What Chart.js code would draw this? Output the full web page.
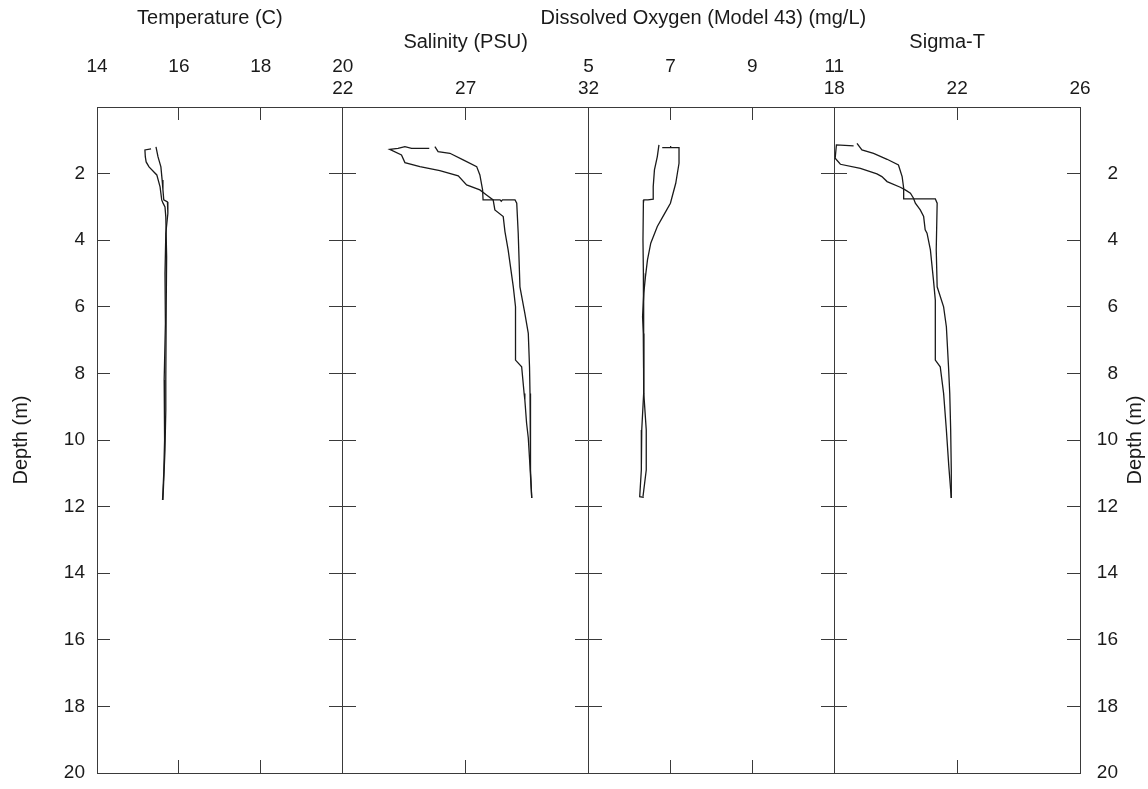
<!DOCTYPE html>
<html>
<head>
<meta charset="utf-8">
<title>CTD profile</title>
<script src="https://cdn.jsdelivr.net/npm/chart.js@4.4.1/dist/chart.umd.min.js"></script>
<style>
  html, body { margin: 0; padding: 0; background: #fff; }
  #wrap { position: relative; width: 1148px; height: 789px; }
</style>
</head>
<body>
<div id="wrap"><canvas id="profile"></canvas></div>
<script>
// tick values for each panel axis
const depthTicks = [0, 2, 4, 6, 8, 10, 12, 14, 16, 18, 20];
const tempTicks = [14, 16, 18, 20];
const salinityTicks = [22, 27, 32];
const oxygenTicks = [5, 7, 9, 11];
const sigmaTicks = [18, 22, 26];

// casts as [value, depth m]
const tempDown = [[15.32, 1.26], [15.17, 1.29], [15.18, 1.5], [15.2, 1.65], [15.27, 1.8], [15.46, 2.04],
  [15.54, 2.4], [15.58, 2.79], [15.61, 2.88], [15.66, 3.0], [15.68, 3.3], [15.7, 4.5], [15.69, 6.0],
  [15.68, 8.2], [15.68, 9.1], [15.66, 10.3], [15.61, 11.8]];
const tempUp = [[15.44, 1.2], [15.49, 1.5], [15.56, 1.8], [15.59, 2.19], [15.61, 2.49], [15.63, 2.79],
  [15.72, 2.85], [15.73, 3.2], [15.68, 3.8], [15.66, 5.0], [15.67, 6.5], [15.64, 8.2], [15.65, 10.0],
  [15.63, 11.0], [15.6, 11.8]];

const salinityDown = [[25.52, 1.24], [24.8, 1.24], [24.53, 1.19], [24.25, 1.24], [23.91, 1.27], [24.39, 1.44],
  [24.53, 1.67], [25.14, 1.79], [25.95, 1.91], [26.7, 2.07], [27.04, 2.34], [27.58, 2.49], [27.85, 2.64],
  [28.12, 2.79], [28.19, 3.09], [28.53, 3.29], [28.6, 3.74], [28.73, 4.29], [28.94, 5.4], [29.03, 6.0],
  [29.03, 7.6], [29.28, 7.8], [29.38, 8.6], [29.41, 8.8], [29.48, 9.49], [29.55, 9.94], [29.62, 10.81],
  [29.69, 11.74]];
const salinityUp = [[25.75, 1.19], [25.88, 1.34], [26.36, 1.39], [26.9, 1.59], [27.45, 1.79], [27.58, 2.04],
  [27.69, 2.49], [27.71, 2.79], [28.4, 2.79], [28.45, 2.83], [28.5, 2.79], [29.01, 2.79], [29.08, 2.89],
  [29.14, 3.79], [29.21, 5.4], [29.41, 6.2], [29.55, 6.8], [29.6, 7.8], [29.62, 8.6], [29.62, 9.7],
  [29.66, 10.9], [29.69, 11.74]];

const oxygenDown = [[6.72, 1.14], [6.68, 1.49], [6.61, 1.89], [6.58, 2.39], [6.58, 2.77], [6.45, 2.79],
  [6.35, 2.79], [6.34, 2.89], [6.33, 3.99], [6.34, 4.99], [6.35, 5.8], [6.35, 6.8], [6.34, 8.6],
  [6.3, 9.7], [6.29, 10.9], [6.25, 11.7], [6.35, 11.72]];
const oxygenUp = [[6.8, 1.22], [6.99, 1.22], [7.0, 1.17], [7.01, 1.22], [7.21, 1.22], [7.21, 1.69],
  [7.17, 1.99], [7.13, 2.29], [7.0, 2.89], [6.84, 3.24], [6.68, 3.59], [6.52, 4.09], [6.44, 4.59],
  [6.39, 5.1], [6.35, 5.59], [6.32, 6.3], [6.34, 6.8], [6.35, 8.6], [6.41, 9.7], [6.41, 10.9], [6.33, 11.7]];

const sigmaDown = [[18.63, 1.17], [18.07, 1.14], [18.03, 1.54], [18.2, 1.72], [18.85, 1.84], [19.39, 2.01],
  [19.55, 2.09], [19.72, 2.24], [20.15, 2.41], [20.31, 2.49], [20.48, 2.59], [20.58, 2.74], [20.64, 2.89],
  [20.8, 3.09], [20.91, 3.29], [20.96, 3.69], [21.02, 3.79], [21.13, 4.29], [21.23, 5.2], [21.29, 5.8],
  [21.29, 7.6], [21.45, 7.8], [21.56, 8.6], [21.65, 9.7], [21.73, 10.8], [21.81, 11.74]];
const sigmaUp = [[18.74, 1.09], [18.9, 1.29], [19.28, 1.39], [19.72, 1.57], [20.09, 1.74], [20.21, 2.09],
  [20.26, 2.44], [20.26, 2.76], [20.8, 2.76], [21.29, 2.76], [21.35, 2.89], [21.32, 4.29], [21.35, 5.4],
  [21.56, 6.0], [21.65, 6.6], [21.72, 7.8], [21.76, 8.6], [21.79, 9.7], [21.81, 10.9], [21.81, 11.74]];

const FONT = '"Liberation Sans", Arial, sans-serif';
const INK = "#1a1a1a";
const RULE = "#3a3a3a";

// row 0 = outer label row, row 1 = inner label row
const panels = [
  { id: "temp", title: "Temperature (C)", ticks: tempTicks, casts: [tempDown, tempUp], row: 0, dx: -10 },
  { id: "sal", title: "Salinity (PSU)", ticks: salinityTicks, casts: [salinityDown, salinityUp], row: 1, dx: 0 },
  { id: "oxy", title: "Dissolved Oxygen (Model 43) (mg/L)", ticks: oxygenTicks, casts: [oxygenDown, oxygenUp], row: 0, dx: -8 },
  { id: "sig", title: "Sigma-T", ticks: sigmaTicks, casts: [sigmaDown, sigmaUp], row: 1, dx: -10 },
];

const tickFont = { family: FONT, size: 19 };
const setTicks = (list) => (scale) => {
  scale.ticks = list.map((v) => ({ value: v }));
};
const grid = (len) => ({ drawOnChartArea: false, tickLength: len, tickColor: RULE, lineWidth: 1 });

const scales = {};

// each panel gets its own quarter of the width through a shared axis stack
panels.forEach((p, i) => {
  const lo = p.ticks[0];
  const hi = p.ticks[p.ticks.length - 1];
  scales[p.id + "Top"] = {
    type: "linear", axis: "x", position: "top", stack: "panels", stackWeight: 1,
    weight: panels.length - i, min: lo, max: hi,
    afterBuildTicks: setTicks(p.ticks),
    grid: grid(-13),
    border: { color: RULE, width: 1 },
    ticks: { font: tickFont, color: INK, padding: p.row ? 20 : 42, maxRotation: 0, autoSkip: false },
    afterFit: (s) => { s.height = 107; },
  };
  scales[p.id + "Bottom"] = {
    type: "linear", axis: "x", position: "bottom", stack: "panels", stackWeight: 1,
    weight: i + 1, min: lo, max: hi,
    afterBuildTicks: setTicks(p.ticks),
    grid: grid(-13),
    border: { color: RULE, width: 1 },
    ticks: { display: false },
    afterFit: (s) => { s.height = 16; },
  };
});

const depthBase = () => ({
  type: "linear", axis: "y", min: 0, max: 20, reverse: true,
  afterBuildTicks: setTicks(depthTicks),
  border: { color: RULE, width: 1 },
});
// label padding should not push the plot area off the bottom edge
const depthFit = (w) => (s) => {
  s.width = w;
  s.paddingTop = 0;
  s.paddingBottom = 0;
};

scales.depth = {
  ...depthBase(), position: "left",
  grid: grid(-13),
  ticks: { font: tickFont, color: INK, padding: 25, callback: (v) => (v === 0 ? "" : v) },
  title: { display: true, text: "Depth (m)", color: INK, font: { family: FONT, size: 20 }, padding: { top: 9, bottom: 0 } },
  afterFit: depthFit(97),
};
scales.depthRight = {
  ...depthBase(), position: "right",
  grid: grid(-13),
  ticks: { font: tickFont, color: INK, padding: 0, crossAlign: "far", callback: (v) => (v === 0 ? "" : v) },
  afterFit: depthFit(38),
};

// divider lines between panels with depth ticks crossing both sides
panels.slice(0, -1).forEach((p, i) => {
  const at = { [p.id + "Top"]: p.ticks[p.ticks.length - 1] };
  scales["divL" + i] = { ...depthBase(), position: at, grid: grid(13), ticks: { display: false } };
  scales["divR" + i] = { ...depthBase(), position: at, grid: grid(-13), ticks: { display: false }, border: { display: false } };
});

const datasets = [];
panels.forEach((p) => {
  p.casts.forEach((cast) => {
    datasets.push({
      data: cast.map(([x, y]) => ({ x, y })),
      xAxisID: p.id + "Top",
      yAxisID: "depth",
      showLine: true,
      borderColor: INK,
      borderWidth: 1.3,
      pointRadius: 0,
      tension: 0,
      fill: false,
    });
  });
});

// panel titles (wider than their panels) and the right depth title
const panelTitles = {
  id: "panelTitles",
  afterDraw(chart) {
    const { ctx } = chart;
    ctx.save();
    ctx.font = "20px " + FONT;
    ctx.fillStyle = INK;
    ctx.textAlign = "center";
    ctx.textBaseline = "middle";
    panels.forEach((p) => {
      const s = chart.scales[p.id + "Top"];
      ctx.fillText(p.title, (s.left + s.right) / 2 + p.dx, s.top + (p.row ? 42 : 18));
    });
    const r = chart.scales.depthRight;
    ctx.translate(r.right + 17, (r.top + r.bottom) / 2);
    ctx.rotate(-Math.PI / 2);
    ctx.fillText("Depth (m)", 0, 0);
    ctx.restore();
  },
};

new Chart(document.getElementById("profile").getContext("2d"), {
  type: "scatter",
  data: { datasets },
  options: {
    responsive: true,
    maintainAspectRatio: false,
    animation: false,
    layout: { padding: { top: 0, left: 0, bottom: 0, right: 30 } },
    scales,
    plugins: {
      legend: { display: false },
      tooltip: { enabled: false },
    },
  },
  plugins: [panelTitles],
});
</script>
</body>
</html>
